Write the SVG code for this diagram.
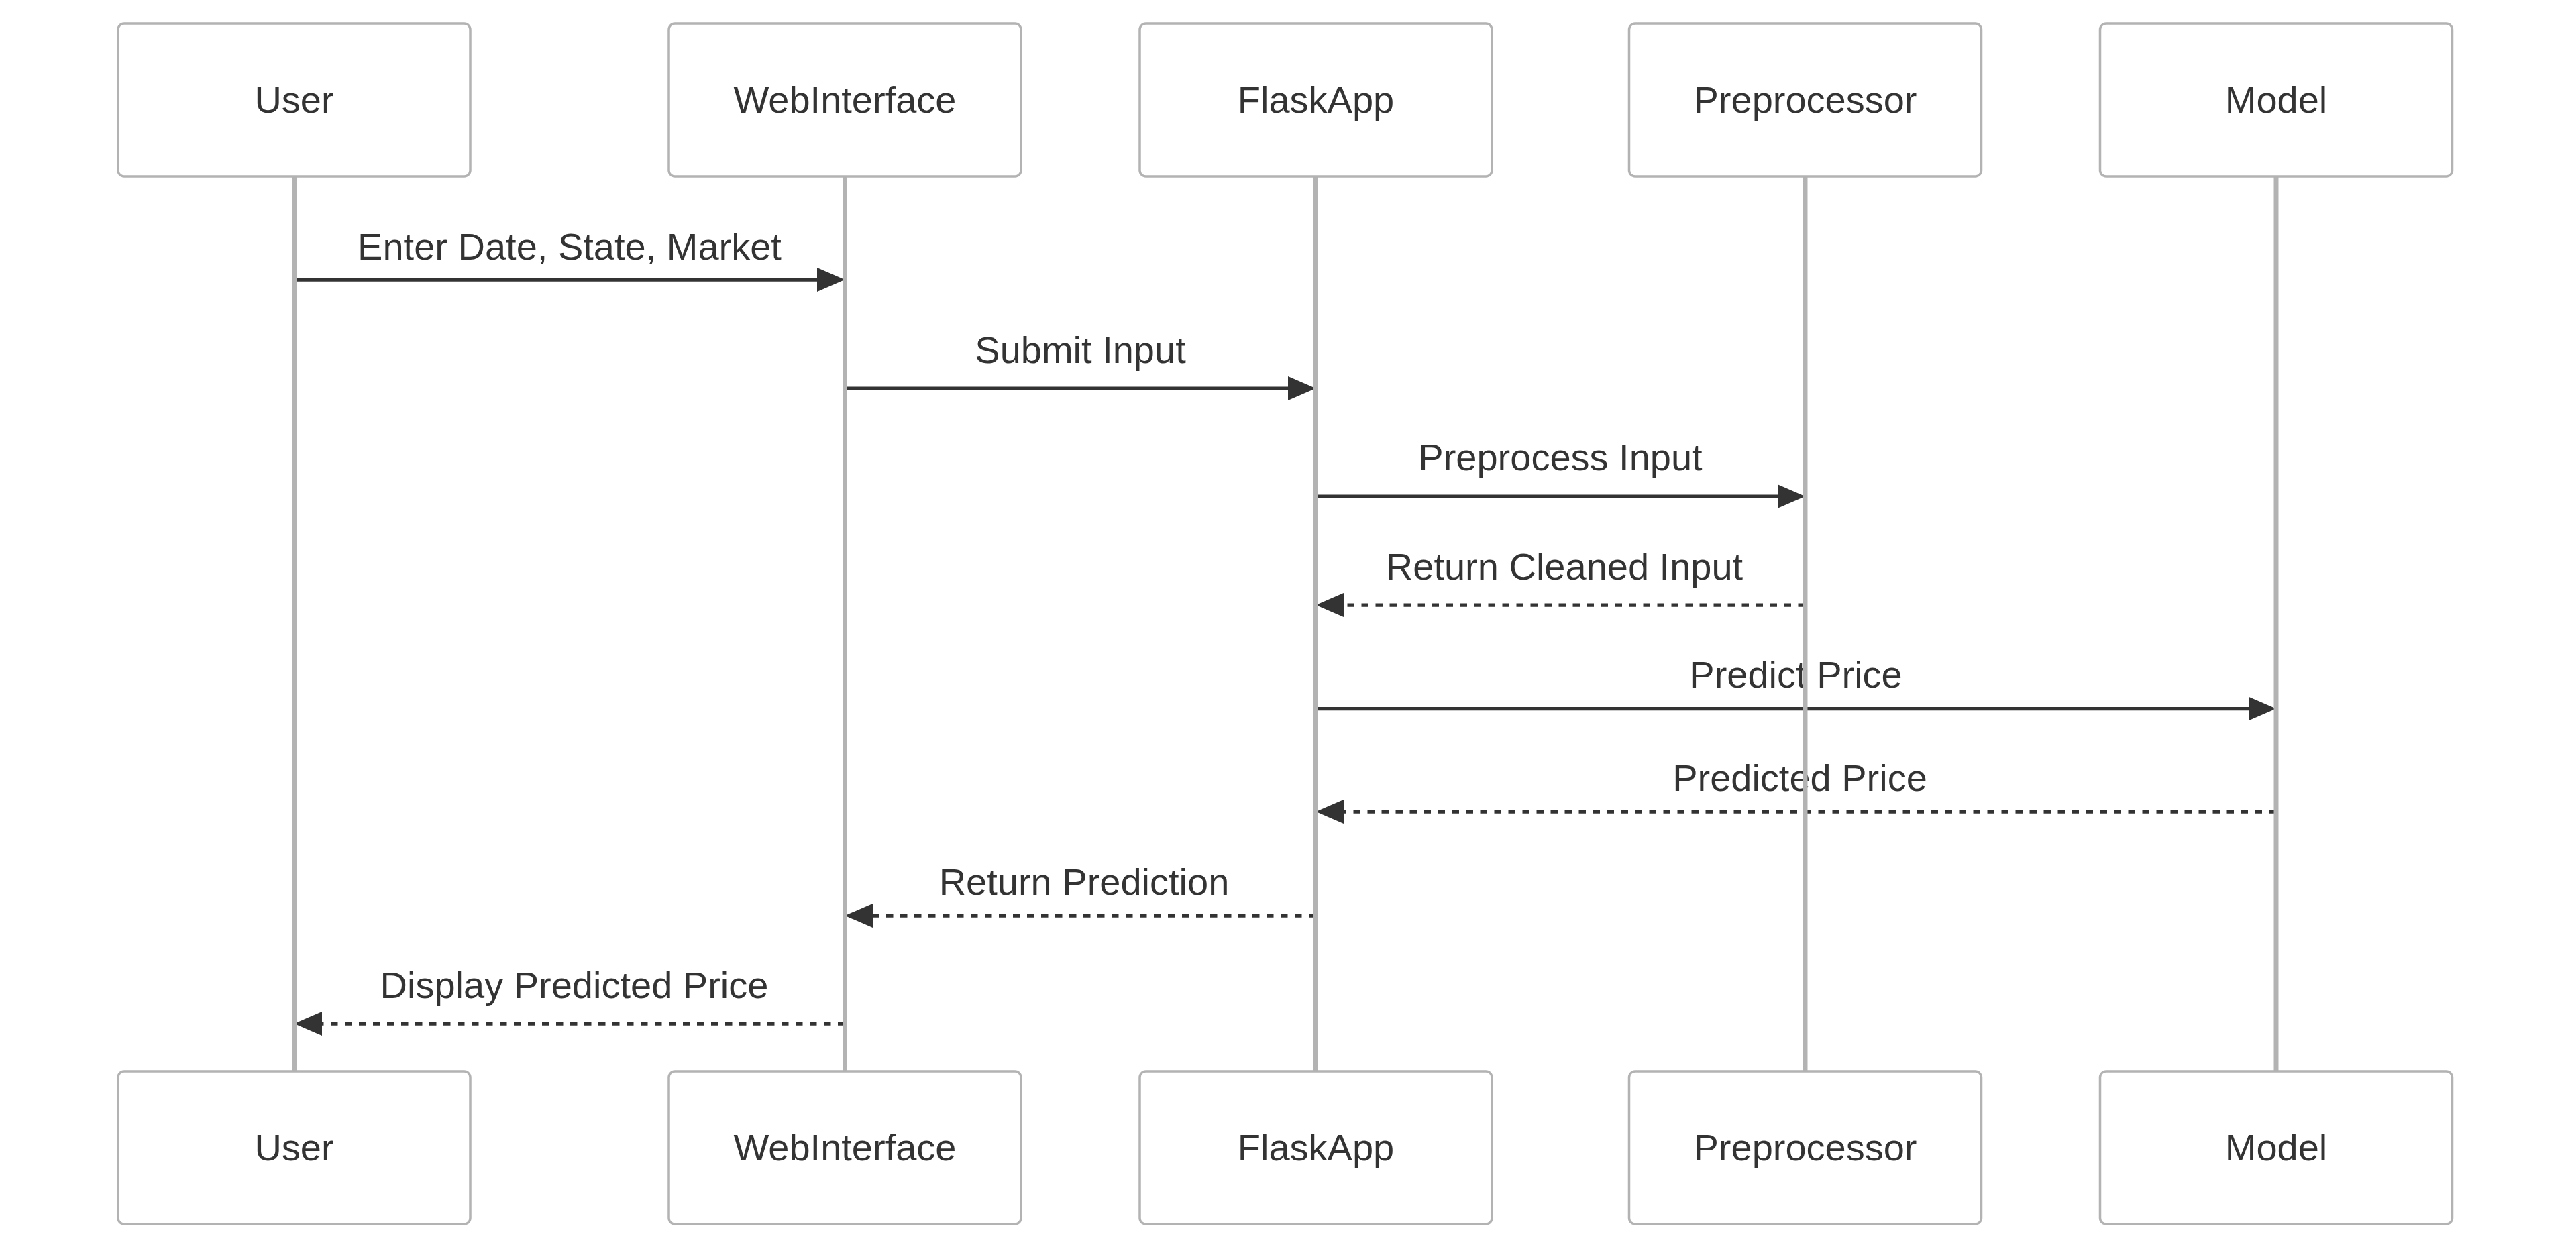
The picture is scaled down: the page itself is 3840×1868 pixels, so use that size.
<svg xmlns="http://www.w3.org/2000/svg" width="3840" height="1868" viewBox="0 0 3840 1868">
<style>
.bg{fill:#ffffff}
.actor{fill:#ffffff;stroke:#b3b3b3;stroke-width:3.5}
.alabel{font-family:"Liberation Sans",Arial,sans-serif;font-size:56px;fill:#333333;text-anchor:middle}
.life{stroke:#b3b3b3;stroke-width:7}
.msg{stroke:#333333;stroke-width:5.25;fill:none;marker-end:url(#arrow)}
.dash{stroke-dasharray:10.5 10.5}
.mlabel{font-family:"Liberation Sans",Arial,sans-serif;font-size:56px;fill:#333333;text-anchor:middle}
</style>
<defs>
<marker id="arrow" viewBox="0 0 41.5 36" markerWidth="41.5" markerHeight="36" markerUnits="userSpaceOnUse" refX="26.5" refY="18" orient="auto">
<path d="M0,0 L41.5,18 L0,36 z" fill="#333333"/>
</marker>
</defs>
<rect class="bg" x="0" y="0" width="3840" height="1868"/>
<g id="messages">
<text class="mlabel" x="849" y="386.5">Enter Date, State, Market</text>
<line class="msg" x1="438.5" y1="417" x2="1244.5" y2="417"/>
<text class="mlabel" x="1610.5" y="541">Submit Input</text>
<line class="msg" x1="1259.5" y1="579" x2="1946.5" y2="579"/>
<text class="mlabel" x="2326" y="701">Preprocess Input</text>
<line class="msg" x1="1961.5" y1="740" x2="2676" y2="740"/>
<text class="mlabel" x="2332" y="864">Return Cleaned Input</text>
<line class="msg dash" x1="2691" y1="902" x2="1976.5" y2="902"/>
<text class="mlabel" x="2677" y="1024.5">Predict Price</text>
<line class="msg" x1="1961.5" y1="1056.5" x2="3378" y2="1056.5"/>
<text class="mlabel" x="2683" y="1179">Predicted Price</text>
<line class="msg dash" x1="3393" y1="1210" x2="1976.5" y2="1210"/>
<text class="mlabel" x="1616" y="1334">Return Prediction</text>
<line class="msg dash" x1="1961.5" y1="1365" x2="1274.5" y2="1365"/>
<text class="mlabel" x="856" y="1488">Display Predicted Price</text>
<line class="msg dash" x1="1259.5" y1="1526" x2="453.5" y2="1526"/>
</g>
<g id="lifelines">
<line class="life" x1="438.5" y1="263" x2="438.5" y2="1597"/>
<line class="life" x1="1259.5" y1="263" x2="1259.5" y2="1597"/>
<line class="life" x1="1961.5" y1="263" x2="1961.5" y2="1597"/>
<line class="life" x1="2691" y1="263" x2="2691" y2="1597"/>
<line class="life" x1="3393" y1="263" x2="3393" y2="1597"/>
</g>
<g id="User">
<rect class="actor" x="176" y="35" width="525" height="228" rx="9"/>
<text class="alabel" x="438.5" y="168">User</text>
<rect class="actor" x="176" y="1597" width="525" height="228" rx="9"/>
<text class="alabel" x="438.5" y="1730">User</text>
</g>
<g id="WebInterface">
<rect class="actor" x="997" y="35" width="525" height="228" rx="9"/>
<text class="alabel" x="1259.5" y="168">WebInterface</text>
<rect class="actor" x="997" y="1597" width="525" height="228" rx="9"/>
<text class="alabel" x="1259.5" y="1730">WebInterface</text>
</g>
<g id="FlaskApp">
<rect class="actor" x="1699" y="35" width="525" height="228" rx="9"/>
<text class="alabel" x="1961.5" y="168">FlaskApp</text>
<rect class="actor" x="1699" y="1597" width="525" height="228" rx="9"/>
<text class="alabel" x="1961.5" y="1730">FlaskApp</text>
</g>
<g id="Preprocessor">
<rect class="actor" x="2428.5" y="35" width="525" height="228" rx="9"/>
<text class="alabel" x="2691" y="168">Preprocessor</text>
<rect class="actor" x="2428.5" y="1597" width="525" height="228" rx="9"/>
<text class="alabel" x="2691" y="1730">Preprocessor</text>
</g>
<g id="Model">
<rect class="actor" x="3130.5" y="35" width="525" height="228" rx="9"/>
<text class="alabel" x="3393" y="168">Model</text>
<rect class="actor" x="3130.5" y="1597" width="525" height="228" rx="9"/>
<text class="alabel" x="3393" y="1730">Model</text>
</g>
</svg>
